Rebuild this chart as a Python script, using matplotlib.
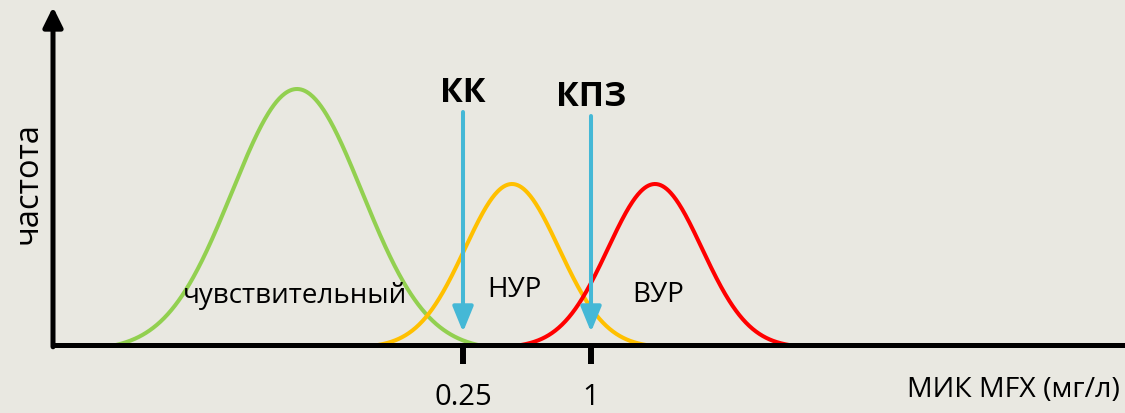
import numpy as np
import matplotlib
matplotlib.use('Agg')
import matplotlib.pyplot as plt

plt.rcParams['font.family'] = ['Open Sans', 'DejaVu Sans']

# данные (условные единицы, ось x ~ пиксели исходного рисунка)
groups = ['чувствительный', 'НУР', 'ВУР']
centers = [297, 512, 655]
heights = [256, 161, 161]
sigmas = [65, 47, 47]
spans = [181, 134, 134]
colors = ['#92d050', '#ffc000', '#ff0000']
label_pos = [(295, 50), (514, 56), (658, 51)]

tick_pos = [463, 591]
tick_labels = ['0.25', '1']
marks = ['КК', 'КПЗ']
mark_top = [233, 229]
mark_tip = [13, 13]
mark_text_y = [253, 249]

bg = '#e9e8e1'
cyan = '#45b8d6'

fig = plt.figure(figsize=(11.25, 4.14), dpi=100, facecolor=bg)
ax = fig.add_axes([0, 0, 1, 1], facecolor=bg)
ax.set_xlim(0, 1125)
ax.set_ylim(-68, 346)

# кривые распределения
for c, h, s, w, col in zip(centers, heights, sigmas, spans, colors):
    x = np.linspace(c - w, c + w, 400)
    g = np.exp(-(x - c) ** 2 / (2 * s ** 2))
    g0 = np.exp(-w ** 2 / (2 * s ** 2))
    y = h * (g - g0) / (1 - g0)
    ax.plot(x, y, color=col, lw=2.9, solid_capstyle='butt', zorder=2)

for name, (lx, ly) in zip(groups, label_pos):
    ax.text(lx, ly, name, ha='center', va='center', fontsize=20, color='black')

# стрелки КК и КПЗ
for xp, top, tip, ty, m in zip(tick_pos, mark_top, mark_tip, mark_text_y, marks):
    ax.annotate('', xy=(xp, tip), xytext=(xp, top),
                arrowprops=dict(arrowstyle='-|>,head_width=0.45,head_length=1.1',
                                color=cyan, lw=2.9, mutation_scale=14,
                                shrinkA=0, shrinkB=0), zorder=3)
    ax.text(xp, ty, m, ha='center', va='center', fontsize=24.5,
            fontweight='bold', color='black')

# оси
for s in ['top', 'right', 'left']:
    ax.spines[s].set_visible(False)
ax.spines['bottom'].set_position(('data', 0))
ax.spines['bottom'].set_bounds(53, 1125)
ax.spines['bottom'].set_linewidth(3.6)
ax.spines['bottom'].set_zorder(4)
ax.set_xticks(tick_pos, tick_labels, fontsize=21)
ax.tick_params(axis='x', length=14, width=4.3, pad=13, direction='out')
ax.set_yticks([])

ax.annotate('', xy=(53, 338), xytext=(53, -1.8),
            arrowprops=dict(arrowstyle='-|>,head_width=0.42,head_length=0.85',
                            color='black', lw=3.6, mutation_scale=14,
                            shrinkA=0, shrinkB=0), zorder=4)

ax.text(28, 163, 'частота', rotation=90, ha='center', va='center', fontsize=23.5)
ax.text(1013, -44, 'МИК MFX (мг/л)', ha='center', va='center', fontsize=20.5)

fig.savefig('out.png', dpi=100, facecolor=bg)
